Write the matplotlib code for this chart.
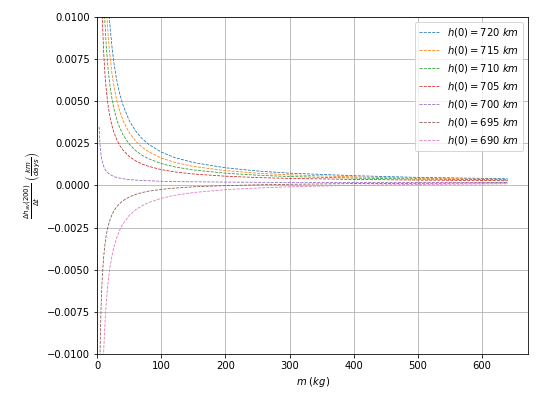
import matplotlib
matplotlib.use("Agg")
import matplotlib.pyplot as plt

# masa (kg)
m = [3, 4, 5, 6, 7, 8, 10, 12, 14, 16, 18, 20, 23, 26, 30, 35, 40, 50, 60, 70,
     80, 100, 120, 150, 200, 250, 300, 400, 500, 640]

heights = [720, 715, 710, 705, 700, 695, 690]

dh_720 = [0.0624, 0.0469, 0.0375, 0.0313, 0.0268, 0.0235, 0.0188, 0.0157, 0.0135, 0.0118,
          0.0105, 0.00946, 0.00824, 0.00730, 0.00634, 0.00545, 0.00479, 0.00385, 0.00323, 0.00278,
          0.00245, 0.00198, 0.00167, 0.00136, 0.00105, 0.00086, 0.00073, 0.00058, 0.00048, 0.00040]
dh_715 = [0.0501, 0.0376, 0.0301, 0.0251, 0.0216, 0.0189, 0.0151, 0.0126, 0.0108, 0.00951,
          0.00846, 0.00763, 0.00665, 0.00590, 0.00513, 0.00442, 0.00388, 0.00313, 0.00263, 0.00227,
          0.00201, 0.00163, 0.00138, 0.00113, 0.00088, 0.00073, 0.00063, 0.00051, 0.00043, 0.00036]
dh_710 = [0.0385, 0.0289, 0.0232, 0.0193, 0.0166, 0.0145, 0.0117, 0.00973, 0.00836, 0.00734,
          0.00654, 0.00590, 0.00515, 0.00457, 0.00398, 0.00344, 0.00303, 0.00245, 0.00207, 0.00179,
          0.00159, 0.00130, 0.00111, 0.00092, 0.00073, 0.00061, 0.00053, 0.00044, 0.00038, 0.00033]
dh_705 = [0.0262, 0.0197, 0.0158, 0.0132, 0.0113, 0.00991, 0.00796, 0.00666, 0.00573, 0.00504,
          0.00449, 0.00406, 0.00355, 0.00316, 0.00276, 0.00239, 0.00211, 0.00172, 0.00146, 0.00127,
          0.00114, 0.00094, 0.00081, 0.00068, 0.00055, 0.00047, 0.00042, 0.00036, 0.00032, 0.00028]
dh_700 = [0.00348, 0.00265, 0.00215, 0.00182, 0.00158, 0.00140, 0.00115, 0.00098, 0.00086, 0.00078,
          0.00071, 0.00065, 0.00059, 0.00053, 0.00048, 0.00044, 0.00040, 0.00035, 0.00032, 0.00029,
          0.00028, 0.00025, 0.00023, 0.00022, 0.00020, 0.00019, 0.00018, 0.00018, 0.00017, 0.00017]
dh_695 = [-0.01478, -0.01103, -0.00878, -0.00728, -0.00621, -0.00541, -0.00428, -0.00353, -0.00299, -0.00259,
          -0.00228, -0.00203, -0.00174, -0.00151, -0.00128, -0.00107, -0.00091, -0.00068, -0.00053, -0.00042,
          -0.00034, -0.00023, -0.00016, -0.00008, -0.00001, 0.00004, 0.00007, 0.00011, 0.00013, 0.00015]
dh_690 = [-0.03374, -0.02524, -0.02014, -0.01674, -0.01431, -0.01249, -0.00994, -0.00824, -0.00703, -0.00612,
          -0.00541, -0.00484, -0.00418, -0.00366, -0.00314, -0.00265, -0.00229, -0.00178, -0.00144, -0.00120,
          -0.00102, -0.00076, -0.00059, -0.00042, -0.00025, -0.00015, -0.00008, 0.00001, 0.00006, 0.00010]

series = [dh_720, dh_715, dh_710, dh_705, dh_700, dh_695, dh_690]

fig = plt.figure(figsize=(7.5, 398 / 72), dpi=72)
ax = fig.add_axes([0.18, 0.111, 0.798, 0.846])

for h, dh in zip(heights, series):
    ax.plot(m, dh, linestyle="--", linewidth=0.8, label=r"$h(0) = %d\ km$" % h)

ax.set_xlim(left=0)
ax.set_ylim(-0.01, 0.01)
ax.grid(True)
ax.set_xlabel(r"$m\ (kg)$")
ax.set_ylabel(r"$\frac{\Delta h_{av}(200)}{\Delta t}\ \left(\frac{km}{days}\right)$")
ax.legend(loc="upper right")

fig.savefig("out.png", dpi=72)
